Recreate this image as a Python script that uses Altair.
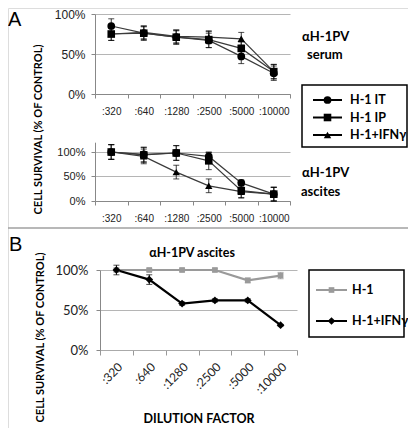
import altair as alt
import pandas as pd

# ---------------- data ----------------
dilutions = [":320", ":640", ":1280", ":2500", ":5000", ":10000"]

a_series = ["H-1 IT", "H-1 IP", "H-1+IFNγ"]
serum_it = [85, 76, 71, 67, 47, 26]
serum_ip = [75, 76, 71, 68, 57, 28]
serum_ifn = [75, 77, 72, 71, 69, 28]
serum_it_err = [9, 9, 8, 9, 9, 9]
serum_ip_err = [8, 8, 9, 10, 8, 9]
serum_ifn_err = [8, 8, 8, 8, 8, 9]

ascites_it = [100, 95, 98, 91, 37, 14]
ascites_ip = [100, 94, 98, 82, 21, 14]
ascites_ifn = [100, 91, 59, 31, 19, 14]
ascites_it_err = [15, 15, 15, 8, 6, 14]
ascites_ip_err = [15, 15, 15, 18, 15, 14]
ascites_ifn_err = [15, 15, 14, 14, 12, 14]

b_series = ["H-1", "H-1+IFNγ"]
b_h1 = [100, 100, 100, 100, 87, 93]
b_ifn = [100, 88, 58, 62, 62, 31]
b_h1_err = [2, 2, 2, 2, 3, 4]
b_ifn_err = [6, 6, 2, 2, 2, 1]

y_title = "CELL SURVIVAL (% OF CONTROL)"
x_title_b = "DILUTION FACTOR"

W, H = 400, 420
BOLD = "Lato"
ARIAL = "Liberation Sans"


def long_table(series, values, errors):
    rows = []
    for s, vals, errs in zip(series, values, errors):
        for d, v, e in zip(dilutions, vals, errs):
            rows.append({"dilution": d, "series": s, "value": v / 100,
                         "lo": (v - e) / 100, "hi": (v + e) / 100})
    return pd.DataFrame(rows)


def panel(df, series, x_range, y_range, y_top, x_axis, y_axis,
          line_colors, line_width, point_colors, shapes, sizes):
    xs = alt.Scale(type="band", domain=dilutions, range=x_range,
                   paddingInner=0, paddingOuter=0)
    ys = alt.Scale(domain=[0, y_top], range=y_range, nice=False, zero=True)
    base = alt.Chart(df)
    x = alt.X("dilution:N", scale=xs, axis=x_axis, bandPosition=0.5)
    stroke = alt.Stroke("series:N", scale=alt.Scale(domain=series, range=line_colors), legend=None)
    fill = alt.Fill("series:N", scale=alt.Scale(domain=series, range=point_colors), legend=None)

    lines = base.mark_line(strokeWidth=line_width).encode(
        x=x, y=alt.Y("value:Q", scale=ys, axis=y_axis), stroke=stroke)
    bars = base.mark_rule(strokeWidth=1).encode(
        x=x, y=alt.Y("lo:Q", scale=ys, axis=y_axis), y2="hi:Q", stroke=stroke)
    cap_lo = base.mark_tick(size=6, thickness=1).encode(
        x=x, y=alt.Y("lo:Q", scale=ys, axis=y_axis), fill=fill)
    cap_hi = base.mark_tick(size=6, thickness=1).encode(
        x=x, y=alt.Y("hi:Q", scale=ys, axis=y_axis), fill=fill)
    points = base.mark_point(filled=True, opacity=1).encode(
        x=x, y=alt.Y("value:Q", scale=ys, axis=y_axis), fill=fill,
        shape=alt.Shape("series:N", scale=alt.Scale(domain=series, range=shapes), legend=None),
        size=alt.Size("series:N", scale=alt.Scale(domain=series, range=sizes), legend=None))
    return alt.layer(lines, bars, cap_lo, cap_hi, points)


def legend(labels, row_range, box, line_x, sym_x, text_x,
           line_colors, point_colors, shapes, sizes, line_width):
    df = pd.DataFrame({"label": labels})
    ys = alt.Scale(type="point", domain=labels, range=row_range, padding=0)
    y = alt.Y("label:N", scale=ys, axis=None)
    frame = alt.Chart(pd.DataFrame({"k": [0]})).mark_rect(
        fill="white", stroke="black", strokeWidth=1.5).encode(
        x=alt.value(box[0]), x2=alt.value(box[1]), y=alt.value(box[2]), y2=alt.value(box[3]))
    seg = alt.Chart(df).mark_rule(strokeWidth=line_width).encode(
        x=alt.value(line_x[0]), x2=alt.value(line_x[1]), y=y,
        stroke=alt.Stroke("label:N", scale=alt.Scale(domain=labels, range=line_colors), legend=None))
    sym = alt.Chart(df).mark_point(filled=True, opacity=1).encode(
        x=alt.value(sym_x), y=y,
        fill=alt.Fill("label:N", scale=alt.Scale(domain=labels, range=point_colors), legend=None),
        shape=alt.Shape("label:N", scale=alt.Scale(domain=labels, range=shapes), legend=None),
        size=alt.Size("label:N", scale=alt.Scale(domain=labels, range=sizes), legend=None))
    txt = alt.Chart(df).mark_text(align="left", baseline="middle", font=BOLD,
                                  fontWeight="bold", fontSize=12.5, color="black").encode(
        x=alt.value(text_x), y=y, text="label:N")
    return alt.layer(frame, seg, sym, txt)


def note(text, x, y, size, weight="bold", font=BOLD, align="left"):
    return alt.Chart(pd.DataFrame({"t": [text]})).mark_text(
        align=align, baseline="middle", fontSize=size, fontWeight=weight,
        font=font, color="black").encode(x=alt.value(x), y=alt.value(y), text="t:N")


def x_axis_a(y_px):
    return alt.Axis(orient="bottom", offset=y_px - H, title=None, labelFont=ARIAL,
                    labelFontSize=10, labelColor="#222", labelAngle=0, labelPadding=8,
                    tickBand="extent", tickSize=4, tickColor="#888", domainColor="#888",
                    grid=False, labelOverlap=False)


def y_axis_common(x_px, font, fsize, pad, **kw):
    return alt.Axis(orient="left", offset=-x_px, values=[0, 0.5, 1], format="%",
                    labelFont=font, labelFontSize=fsize, labelColor="#222",
                    labelPadding=pad, tickSize=4, tickColor="#888", domainColor="#888",
                    grid=True, gridColor="#b5b5b5", **kw)


serum_df = long_table(a_series, [serum_it, serum_ip, serum_ifn],
                      [serum_it_err, serum_ip_err, serum_ifn_err])
ascites_df = long_table(a_series, [ascites_it, ascites_ip, ascites_ifn],
                        [ascites_it_err, ascites_ip_err, ascites_ifn_err])
b_df = long_table(b_series, [b_h1, b_ifn], [b_h1_err, b_ifn_err])

a_shapes = ["circle", "square", "triangle-up"]
a_sizes = [60, 55, 70]
a_line = ["#3a3a3a", "#3a3a3a", "#3a3a3a"]
a_fill = ["#000000", "#000000", "#000000"]
b_shapes = ["square", "diamond"]
b_sizes = [32, 60]
b_colors = ["#9a9a9a", "#000000"]

serum = panel(
    serum_df, a_series, [87, 282], [86, 6], 1,
    x_axis_a(86),
    y_axis_common(87, ARIAL, 12, 6, title=y_title, titleX=-57, titleY=121,
                  titleAngle=270, titleFont=BOLD, titleFontSize=11,
                  titleFontWeight="bold", titleBaseline="middle", titleAlign="center",
                  titleColor="black"),
    a_line, 1.2, a_fill, a_shapes, a_sizes)

ascites = panel(
    ascites_df, a_series, [87, 282], [193, 134.2], 1.2,
    x_axis_a(193),
    y_axis_common(87, ARIAL, 11, 6, title=None),
    a_line, 1.2, a_fill, a_shapes, a_sizes)

panel_b = panel(
    b_df, b_series, [92, 289], [342, 262], 1,
    alt.Axis(orient="bottom", offset=342 - H, title=x_title_b, titleFont=BOLD,
             titleFontSize=12.5, titleFontWeight="bold", titleColor="black",
             titleY=62, labelFont=BOLD, labelFontSize=12, labelColor="#222",
             labelAngle=-45, labelPadding=6, tickBand="extent", tickSize=5,
             tickColor="#999", domainColor="#aaa", grid=False, labelOverlap=False),
    y_axis_common(92, BOLD, 13, 8, title=y_title, titleX=-60, titleY=329,
                  titleAngle=270, titleFont=BOLD, titleFontSize=11,
                  titleFontWeight="bold", titleBaseline="middle", titleAlign="center",
                  titleColor="black"),
    b_colors, 2.2, b_colors, b_shapes, b_sizes)

legend_a = legend(a_series, [92, 127], [294, 399, 77, 139], [305, 334], 319.5, 342,
                  ["#000000"] * 3, a_fill, a_shapes, a_sizes, 2)
legend_b = legend(b_series, [282, 313], [301, 396, 262, 329], [308, 339], 323.5, 344,
                  b_colors, b_colors, b_shapes, b_sizes, 2)

separator = alt.Chart(pd.DataFrame({"k": [0]})).mark_rule(
    color="#a0a0a0", strokeWidth=1.5).encode(
    x=alt.value(0), x2=alt.value(W), y=alt.value(220))

notes = alt.layer(
    note("A", 0, 12, 20, weight="normal", font=ARIAL),
    note("B", 1, 237, 20, weight="normal", font=ARIAL),
    note("αH-1PV", 294, 29, 13),
    note("serum", 299, 47, 13),
    note("αH-1PV", 294, 165, 13),
    note("ascites", 293, 184, 13),
    note("αH-1PV ascites", 184, 245, 12.5, align="center"),
)

chart = alt.layer(
    separator, serum, ascites, panel_b, legend_a, legend_b, notes
).resolve_scale(
    x="independent", y="independent", stroke="independent", fill="independent",
    shape="independent", size="independent"
).resolve_axis(
    x="independent", y="independent"
).properties(
    width=W, height=H, padding=0,
    autosize=alt.AutoSizeParams(type="none")
).configure_view(strokeWidth=0).configure(background="white")

chart.save("out.html", embed_options={"renderer": "svg", "actions": False})
